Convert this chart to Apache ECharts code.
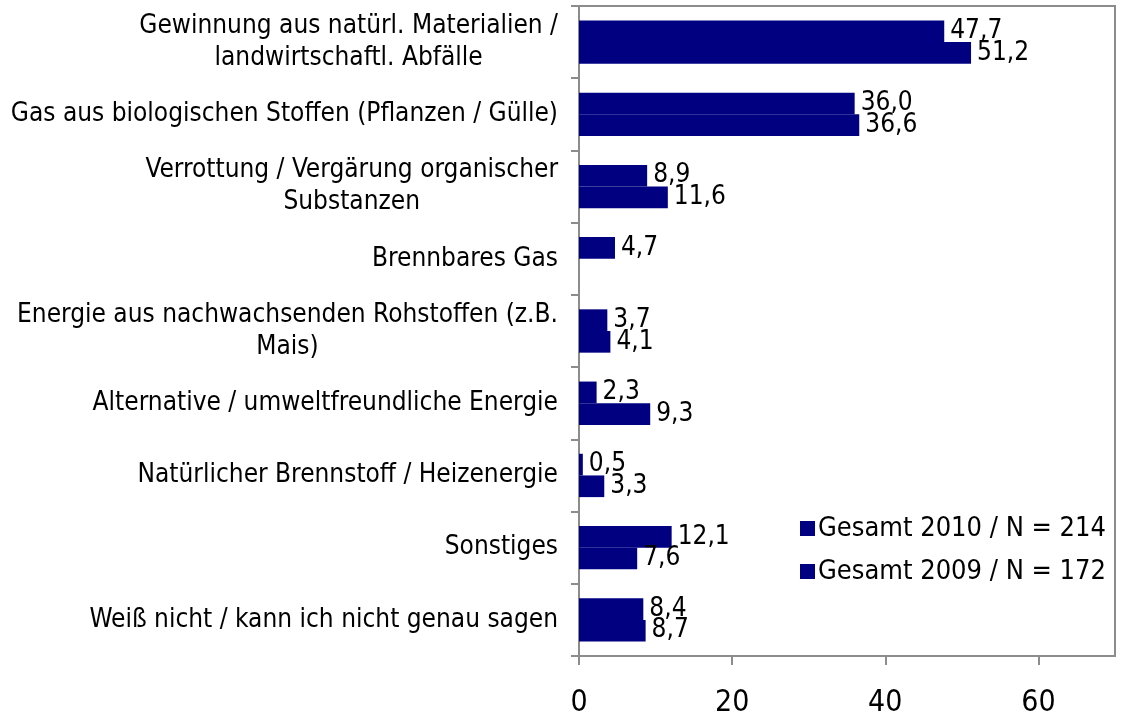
<!DOCTYPE html>
<html>
<head>
<meta charset="utf-8">
<script src="https://cdn.jsdelivr.net/npm/echarts@6/dist/echarts.min.js"></script>
<style>
  html, body { margin: 0; padding: 0; background: #fff; }
  #chart { width: 1124px; height: 715px; }
</style>
</head>
<body>
<div id="chart"></div>
<script>
var categories = [
    "Gewinnung aus natürl. Materialien /\nlandwirtschaftl. Abfälle",
    "Gas aus biologischen Stoffen (Pflanzen / Gülle)",
    "Verrottung / Vergärung organischer\nSubstanzen",
    "Brennbares Gas",
    "Energie aus nachwachsenden Rohstoffen (z.B.\nMais)",
    "Alternative / umweltfreundliche Energie",
    "Natürlicher Brennstoff / Heizenergie",
    "Sonstiges",
    "Weiß nicht / kann ich nicht genau sagen"
];
var values2010 = [47.7, 36.0, 8.9, 4.7, 3.7, 2.3, 0.5, 12.1, 8.4];
var values2009 = [51.2, 36.6, 11.6, null, 4.1, 9.3, 3.3, 7.6, 8.7];
var seriesNames = ["Gesamt 2010 / N = 214", "Gesamt 2009 / N = 172"];
var xTicks = [0, 20, 40, 60];

var font = "'DejaVu Sans Condensed', 'DejaVu Sans'";
var navy = "#000080";
var gray = "#8c8c8c";

function fmt(p) {
    return p.value.toFixed(1).replace(".", ",");
}

function makeSeries(name, data) {
    return {
        name: name,
        type: "bar",
        data: data,
        barGap: "0%",
        barCategoryGap: "40%",
        itemStyle: { color: navy },
        label: {
            show: true,
            position: "right",
            distance: 6,
            color: "#000",
            fontFamily: font,
            fontSize: 26,
            formatter: fmt
        }
    };
}

var chart = echarts.init(document.getElementById("chart"));
chart.setOption({
    animation: false,
    backgroundColor: "#fff",
    grid: {
        left: 579, right: 9, top: 6, bottom: 59,
        show: true,
        borderColor: gray,
        borderWidth: 2,
        containLabel: false,
        outerBoundsMode: "none"
    },
    legend: {
        orient: "vertical",
        left: 800,
        top: 515,
        padding: 0,
        itemGap: 16,
        itemWidth: 15,
        itemHeight: 15,
        icon: "rect",
        data: seriesNames,
        textStyle: { fontFamily: font, fontSize: 27, color: "#000", padding: [0, 0, 0, -2] }
    },
    xAxis: {
        type: "value",
        min: 0,
        max: 70,
        interval: 20,
        axisLine: { show: true, lineStyle: { color: gray, width: 2 } },
        axisTick: { show: true, length: 9, lineStyle: { color: gray, width: 2 } },
        splitLine: { show: false },
        axisLabel: {
            showMaxLabel: false,
            margin: 32,
            fontFamily: font,
            fontSize: 30,
            color: "#000",
            formatter: function (v) { return xTicks.indexOf(v) >= 0 ? String(v) : ""; }
        }
    },
    yAxis: {
        type: "category",
        inverse: true,
        data: categories,
        axisLine: { show: true, lineStyle: { color: gray, width: 2 } },
        axisTick: { show: true, length: 8, lineStyle: { color: gray, width: 2 } },
        axisLabel: {
            margin: 21,
            color: "#000",
            fontFamily: font,
            fontSize: 26,
            lineHeight: 32,
            formatter: function (v) {
                return v.split("\n").map(function (l) { return "{c|" + l + "}"; }).join("\n");
            },
            rich: {
                c: { align: "center", fontFamily: font, fontSize: 26, lineHeight: 32, color: "#000" }
            }
        }
    },
    series: [
        makeSeries(seriesNames[0], values2010),
        makeSeries(seriesNames[1], values2009)
    ]
});
</script>
</body>
</html>
